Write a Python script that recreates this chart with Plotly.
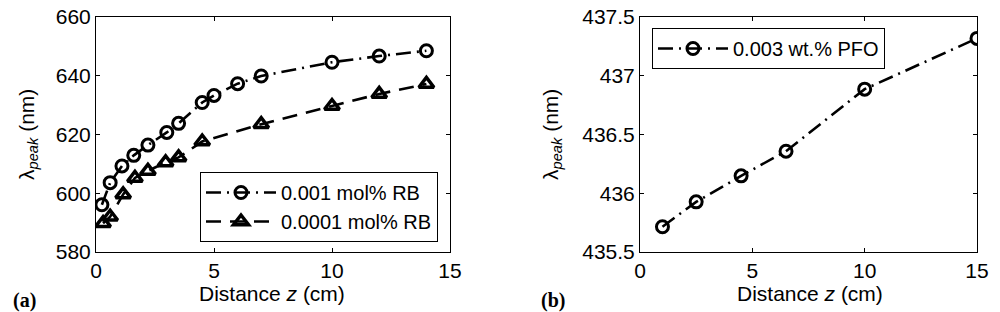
import plotly.graph_objects as go

# Panel (a) data
za_circ = [0.25, 0.6, 1.1, 1.6, 2.2, 3.0, 3.5, 4.5, 5.0, 6.0, 7.0, 10.0, 12.0, 14.0]
lam_circ = [596.1, 603.6, 609.3, 612.9, 616.4, 620.7, 623.8, 630.9, 633.3, 637.3, 639.9, 644.6, 646.7, 648.5]
za_tri = [0.3, 0.6, 1.15, 1.65, 2.2, 2.95, 3.5, 4.5, 7.0, 10.0, 12.0, 14.0]
lam_tri = [589.8, 592.0, 599.6, 605.2, 607.6, 610.5, 612.2, 617.6, 623.5, 629.7, 633.8, 637.2]
label_circ = "0.001 mol% RB"
label_tri = "0.0001 mol% RB"

# Panel (b) data
zb = [1.0, 2.5, 4.5, 6.5, 10.0, 15.0]
lam_b = [435.715, 435.927, 436.148, 436.358, 436.886, 437.318]
label_b = "0.003 wt.% PFO"

xticks = [0, 5, 10, 15]
yticks_a = [580, 600, 620, 640, 660]
yticks_b = [435.5, 436, 436.5, 437, 437.5]
yticklabels_b = ["435.5", "436", "436.5", "437", "437.5"]

FONT = "Liberation Sans, Arial, sans-serif"
FS = 21
W, H = 1000, 312

DASHDOT = "15px,6px,2px,6px"
DASH = "15px,9px"

fig = go.Figure()

fig.add_trace(go.Scatter(
    x=za_circ, y=lam_circ, mode="lines+markers", name=label_circ,
    line=dict(color="black", width=2.6, dash=DASHDOT),
    marker=dict(symbol="circle-open", size=12, color="black", line=dict(width=3, color="black")),
    xaxis="x", yaxis="y", legend="legend",
))
fig.add_trace(go.Scatter(
    x=za_tri, y=lam_tri, mode="lines+markers", name=label_tri,
    line=dict(color="black", width=2.6, dash=DASH),
    marker=dict(symbol="triangle-up-open", size=13, color="black", line=dict(width=3.5, color="black")),
    xaxis="x", yaxis="y", legend="legend",
))
fig.add_trace(go.Scatter(
    x=zb, y=lam_b, mode="lines+markers", name=label_b,
    line=dict(color="black", width=2.6, dash=DASHDOT),
    marker=dict(symbol="circle-open", size=12, color="black", line=dict(width=3, color="black")),
    xaxis="x2", yaxis="y2", legend="legend2",
))

ax_common = dict(
    showline=True, linecolor="black", linewidth=1, mirror="ticks",
    ticks="inside", ticklen=4, tickcolor="black", tickwidth=1,
    showgrid=False, zeroline=False, automargin=False,
    tickfont=dict(family=FONT, size=FS, color="black"),
)

xa0, xa1 = 96 / W, 450 / W
xb0, xb1 = 640 / W, 977 / W
y0, y1 = 1 - 252 / H, 1 - 17 / H

fig.update_layout(
    width=W, height=H,
    margin=dict(l=0, r=0, t=0, b=0, pad=0, autoexpand=False),
    paper_bgcolor="white", plot_bgcolor="white",
    font=dict(family=FONT, size=FS, color="black"),
    xaxis=dict(domain=[xa0, xa1], range=[0, 15], tickvals=xticks, anchor="y", **ax_common),
    yaxis=dict(domain=[y0, y1], range=[580, 660], tickvals=yticks_a, anchor="x", **ax_common),
    xaxis2=dict(domain=[xb0, xb1], range=[0, 15], tickvals=xticks, anchor="y2", **ax_common),
    yaxis2=dict(domain=[y0, y1], range=[435.5, 437.5], tickvals=yticks_b, ticktext=yticklabels_b,
                anchor="x2", **ax_common),
    legend=dict(x=438 / W, y=1 - 242 / H, xanchor="right", yanchor="bottom",
                bgcolor="white", bordercolor="black", borderwidth=1,
                font=dict(family=FONT, size=20, color="black"),
                itemwidth=70, tracegroupgap=0),
    legend2=dict(x=652 / W, y=1 - 28 / H, xanchor="left", yanchor="top",
                 bgcolor="white", bordercolor="black", borderwidth=1,
                 font=dict(family=FONT, size=20, color="black"),
                 itemwidth=70),
    showlegend=True,
)

ann = []
# y-axis titles
for xc in (28, 552):
    ann.append(dict(text="λ<sub><i>peak</i></sub> (nm)", x=xc / W, y=1 - 135 / H,
                    xref="paper", yref="paper", xanchor="center", yanchor="middle",
                    textangle=-90, showarrow=False,
                    font=dict(family=FONT, size=FS, color="black")))
# x-axis titles
for xc in (272, 810):
    ann.append(dict(text="Distance <i>z</i> (cm)", x=xc / W, y=1 - 293 / H,
                    xref="paper", yref="paper", xanchor="center", yanchor="middle",
                    showarrow=False, font=dict(family=FONT, size=FS, color="black")))
# panel labels
for xc, t in ((24, "(a)"), (553, "(b)")):
    ann.append(dict(text=f"<b>{t}</b>", x=xc / W, y=1 - 300 / H,
                    xref="paper", yref="paper", xanchor="center", yanchor="middle",
                    showarrow=False,
                    font=dict(family="Liberation Serif, Times New Roman, serif", size=20, color="black")))
fig.update_layout(annotations=ann)

fig.write_html(
    "out.html",
    config={"displayModeBar": False},
    post_script="document.body.style.margin='0';document.body.style.padding='0';document.body.style.overflow='hidden';",
)
